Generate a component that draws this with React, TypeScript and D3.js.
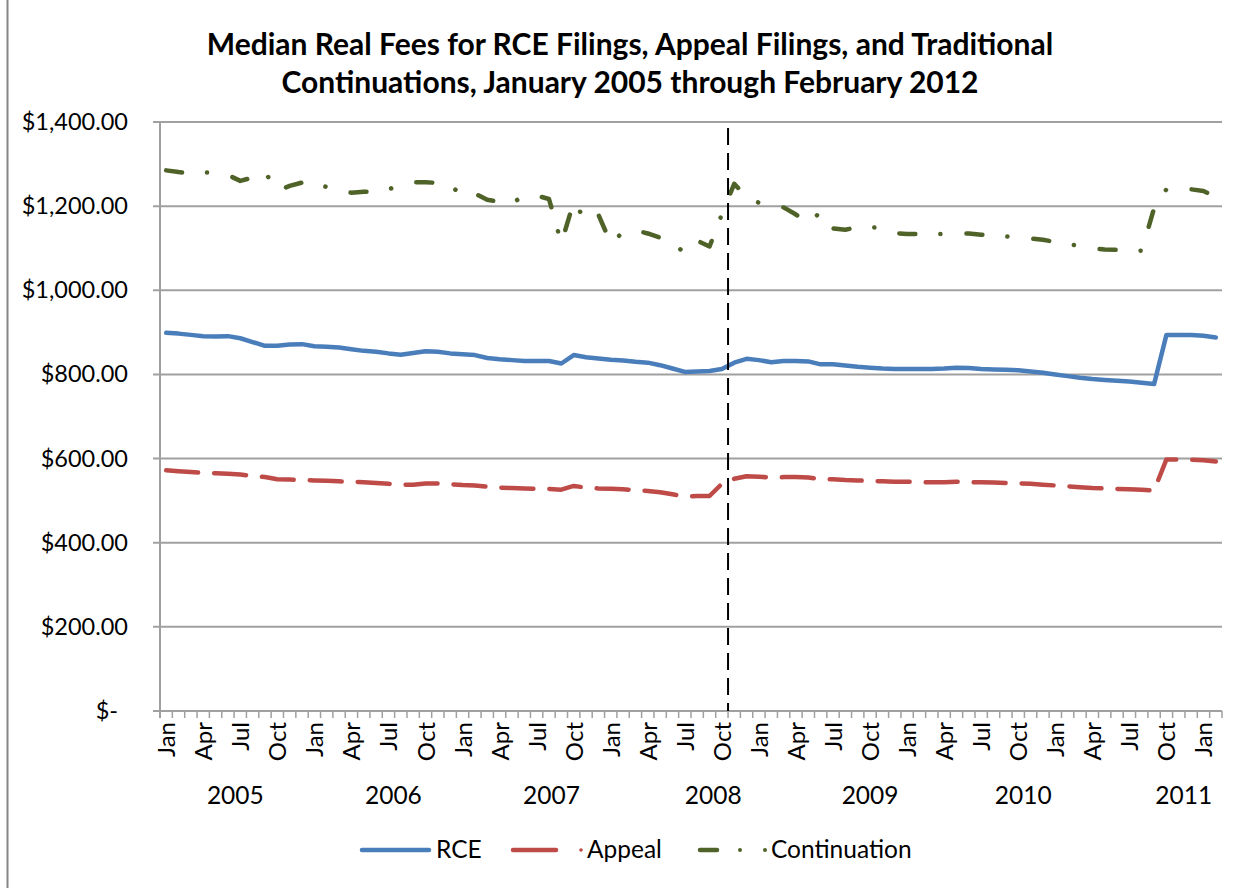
import * as d3 from "d3";

const MONTHS = ["Jan", "Feb", "Mar", "Apr", "May", "Jun", "Jul", "Aug", "Sep", "Oct", "Nov", "Dec"];
const START_YEAR = 2005;
const N_MONTHS = 86; // Jan 2005 .. Feb 2012

const categories = d3.range(N_MONTHS).map((i) => `${MONTHS[i % 12]} ${START_YEAR + Math.floor(i / 12)}`);

// median real fees, one value per month
const rce = [
  899, 897, 894, 891, 890, 891, 886, 877, 868, 868,
  871, 872, 867, 866, 864, 860, 856, 854, 850, 847,
  851, 855, 854, 850, 848, 846, 839, 836, 834, 832,
  832, 832, 826, 846, 841, 838, 835, 833, 830, 828,
  822, 814, 806, 807, 808, 813, 828, 837, 834, 829,
  832, 832, 831, 824, 824, 821, 818, 816, 814, 813,
  813, 813, 813, 814, 816, 815, 813, 812, 811, 810,
  807, 804, 800, 796, 792, 789, 787, 785, 783, 780,
  777, 894, 894, 894, 892, 888,
];
const appeal = [
  572, 570, 568, 566, 565, 564, 562, 559, 556, 551,
  550, 549, 548, 547, 546, 545, 544, 542, 540, 538,
  538, 541, 541, 539, 537, 536, 533, 531, 530, 529,
  528, 528, 526, 535, 531, 529, 528, 527, 525, 523,
  520, 515, 510, 511, 511, 540, 552, 558, 557, 555,
  556, 556, 555, 551, 551, 549, 548, 547, 546, 545,
  545, 544, 544, 544, 545, 544, 544, 543, 542, 541,
  540, 538, 536, 534, 532, 530, 529, 528, 527, 526,
  524, 598, 598, 597, 596, 593,
];
const continuation = [
  1285, 1281, 1278, 1280, 1280, 1274, 1260, 1268, 1281, 1236,
  1248, 1256, 1257, 1245, 1234, 1232, 1234, 1234, 1240, 1250,
  1257, 1257, 1255, 1250, 1224, 1230, 1215, 1210, 1207, 1225,
  1225, 1217, 1112, 1210, 1165, 1180, 1112, 1138, 1143, 1135,
  1125, 1110, 1090, 1118, 1104, 1181, 1253, 1222, 1208, 1198,
  1197, 1180, 1160, 1186, 1147, 1144, 1150, 1150, 1148, 1136,
  1134, 1134, 1134, 1134, 1135, 1135, 1132, 1130, 1128, 1126,
  1123, 1120, 1115, 1110, 1105, 1100, 1097, 1096, 1095, 1094,
  1195, 1240, 1240, 1240, 1236, 1222,
];

const yTicks = [0, 200, 400, 600, 800, 1000, 1200, 1400];
const yearLabels = ["2005", "2006", "2007", "2008", "2009", "2010", "2011"];
// where the year group labels sit, in months from Jan 2005
const yearLabelAt = [5.6, 18.4, 31.2, 44.3, 57.0, 69.4, 82.4];
const markerMonth = "Nov 2008";

const series = [
  { name: "RCE", values: rce, color: "#4a7ebb", dash: null },
  { name: "Appeal", values: appeal, color: "#be4b48", dash: "32 16" },
  { name: "Continuation", values: continuation, color: "#4f6228", dash: "16 25 0.1 26" },
];

const W = 1253;
const H = 888;
const plot = { left: 160, right: 1222, top: 122, bottom: 711 };
const FONT = "Lato, 'Open Sans', sans-serif";

function fmtMoney(v: number) {
  if (v === 0) return "$-";
  return "$" + d3.format(",.2f")(v);
}

export default function App() {
  const x = d3.scaleBand().domain(categories).range([plot.left, plot.right]).padding(0);
  const bw = x.bandwidth();
  const y = d3.scaleLinear().domain([0, 1400]).range([plot.bottom, plot.top]);
  const cx = (i: number) => (x(categories[i]) as number) + bw / 2;

  const line = d3
    .line<number>()
    .x((_, i) => cx(i))
    .y((d) => y(d));

  const markerX = x(markerMonth) as number;
  const tickXs = d3.range(N_MONTHS + 1).map((i) => plot.left + i * bw);

  return (
    <svg width={W} height={H} style={{ position: "absolute", left: 0, top: 0, display: "block", background: "#fff" }}>
      <line x1={7.5} x2={7.5} y1={0} y2={H} stroke="#868686" strokeWidth={2} />

      <g fontFamily={FONT} fontWeight="bold" fontSize={30} textAnchor="middle" fill="#000">
        <text x={630} y={55}>Median Real Fees for RCE Filings, Appeal Filings, and Traditional</text>
        <text x={630} y={93}>Continuations, January 2005 through February 2012</text>
      </g>

      {/* gridlines */}
      {yTicks.map((t) => (
        <line key={t} x1={plot.left - 7} x2={plot.right} y1={y(t)} y2={y(t)} stroke="#a0a0a0" strokeWidth={2} />
      ))}
      <line x1={plot.left} x2={plot.left} y1={plot.top} y2={plot.bottom + 7} stroke="#a0a0a0" strokeWidth={2} />
      {tickXs.map((tx, i) => (
        <line key={i} x1={tx} x2={tx} y1={plot.bottom} y2={plot.bottom + 7} stroke="#a0a0a0" strokeWidth={1.5} />
      ))}

      {/* y labels */}
      <g fontFamily={FONT} fontSize={23.5} textAnchor="end" fill="#000">
        {yTicks.map((t) => (
          <text key={t} x={t === 0 ? 118 : 128} y={y(t) + 8}>
            {fmtMoney(t)}
          </text>
        ))}
      </g>

      {/* month labels */}
      <g fontFamily={FONT} fontSize={24} fill="#000">
        {categories.map((c, i) =>
          i % 3 === 0 ? (
            <text key={c} transform={`translate(${cx(i) + 9},${plot.bottom + 11}) rotate(-90)`} textAnchor="end">
              {MONTHS[i % 12]}
            </text>
          ) : null
        )}
      </g>
      <g fontFamily={FONT} fontSize={24.5} textAnchor="middle" fill="#000">
        {yearLabels.map((yl, i) => (
          <text key={yl} x={plot.left + (yearLabelAt[i] + 0.5) * bw} y={804}>
            {yl}
          </text>
        ))}
      </g>

      {/* series */}
      {series.map((s) => (
        <path
          key={s.name}
          d={line(s.values) ?? ""}
          fill="none"
          stroke={s.color}
          strokeWidth={4.5}
          strokeLinecap="round"
          strokeLinejoin="round"
          strokeDasharray={s.dash ?? undefined}
        />
      ))}

      <line x1={markerX} x2={markerX} y1={128} y2={plot.bottom} stroke="#000" strokeWidth={2} strokeDasharray="17 8" />

      {/* legend */}
      <g fontFamily={FONT} fontSize={24.5} fill="#000">
        <line x1={362} x2={429} y1={850} y2={850} stroke="#4a7ebb" strokeWidth={4.5} strokeLinecap="round" />
        <text x={436} y={858}>RCE</text>
        <line x1={513} x2={556} y1={850} y2={850} stroke="#be4b48" strokeWidth={4.5} strokeLinecap="round" />
        <circle cx={581} cy={850} r={1.8} fill="#be4b48" />
        <text x={587} y={858}>Appeal</text>
        <line x1={700} x2={717} y1={850} y2={850} stroke="#4f6228" strokeWidth={4.5} strokeLinecap="round" />
        <circle cx={740} cy={850} r={2} fill="#4f6228" />
        <circle cx={765} cy={850} r={2} fill="#4f6228" />
        <text x={771} y={858}>Continuation</text>
      </g>
    </svg>
  );
}
